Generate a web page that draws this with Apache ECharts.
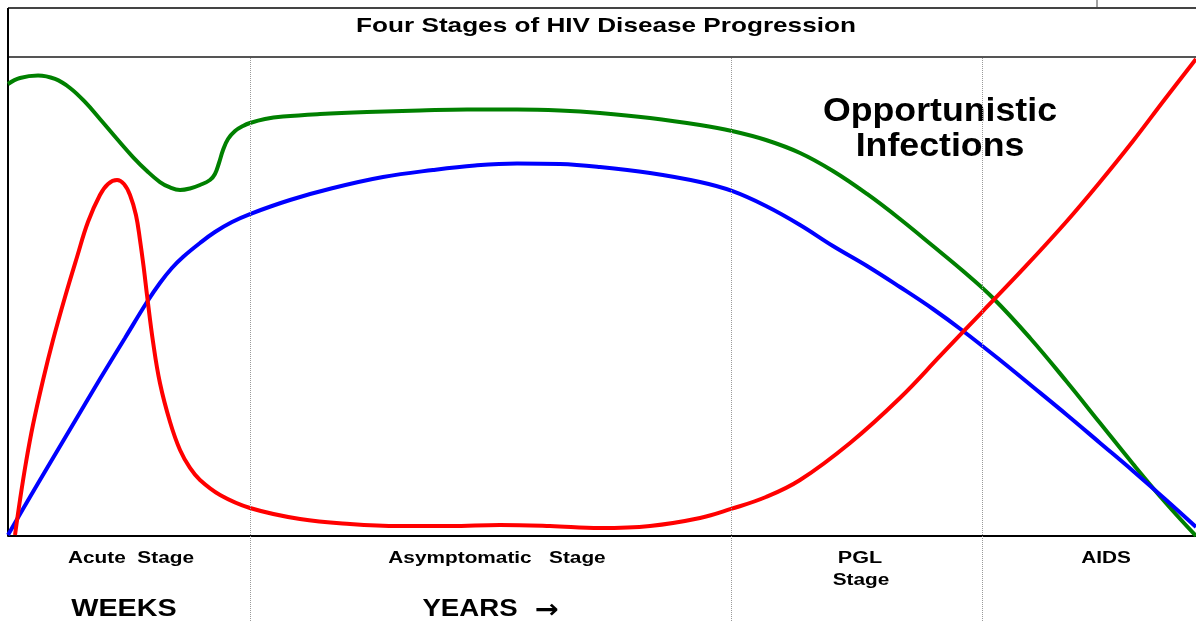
<!DOCTYPE html>
<html>
<head>
<meta charset="utf-8">
<script src="https://cdn.jsdelivr.net/npm/echarts@6/dist/echarts.min.js"></script>
<style>
  html, body, #main { width: 100%; height: 100%; margin: 0; background: #fff; }
</style>
</head>
<body>
<div id="main"></div>
<script>
// time runs 0..100 across the plot, level 0..100 (arbitrary units)
var viralLoad = [
  [0.59, 0.21], [1.01, 7.52], [1.52, 15.45], [2.10, 23.17], [2.95, 32.57], [3.79, 40.92],
  [4.80, 49.90], [5.81, 58.25], [6.73, 65.55], [7.74, 71.19], [8.42, 73.49], [9.18, 74.32],
  [9.76, 73.49], [10.27, 71.19], [10.77, 67.01], [11.11, 61.80], [11.45, 55.53], [11.70, 50.31],
  [12.21, 40.50], [12.79, 31.94], [13.64, 23.80], [14.48, 17.95], [15.32, 14.20], [16.16, 11.69],
  [17.85, 8.56], [20.37, 5.85], [24.58, 3.55], [28.79, 2.51], [33.00, 2.09], [37.21, 2.09],
  [41.41, 2.30], [45.62, 2.09], [49.83, 1.67], [54.04, 2.09], [58.25, 3.76], [60.86, 5.64],
  [63.80, 8.14], [66.67, 11.69], [70.88, 19.42], [75.08, 28.81], [78.54, 37.79], [81.99, 46.76],
  [85.61, 56.16], [89.14, 65.76], [91.92, 73.90], [94.70, 82.46], [97.39, 91.23], [100, 99.58]
];
var antibodies = [
  [0, 0.21], [1.85, 8.14], [3.54, 15.24], [5.64, 24.01], [7.74, 32.78], [9.85, 41.34],
  [11.70, 48.85], [12.79, 52.82], [13.80, 55.95], [14.73, 58.25], [16.16, 61.17], [17.42, 63.47],
  [18.86, 65.55], [20.37, 67.22], [23.74, 70.15], [27.36, 72.65], [31.57, 74.95], [35.77, 76.41],
  [39.31, 77.35], [42.85, 77.77], [46.46, 77.66], [49.83, 77.04], [54.04, 75.78], [58.25, 73.90],
  [60.94, 72.03], [63.80, 68.89], [66.67, 64.93], [69.44, 60.54], [72.31, 56.37], [75.08, 51.98],
  [77.86, 47.39], [80.39, 42.80], [83.50, 36.74], [86.28, 31.11], [89.14, 25.26], [91.92, 19.42],
  [94.70, 13.57], [97.39, 7.72], [100, 1.88]
];
var cd4 = [
  [0, 94.36], [1.01, 95.62], [2.53, 96.14], [3.96, 95.41], [5.22, 93.53], [6.48, 90.61],
  [7.74, 87.06], [9.18, 82.88], [10.52, 79.12], [11.70, 76.20], [12.79, 73.90], [13.64, 72.76],
  [14.48, 72.23], [15.32, 72.55], [16.16, 73.28], [17.00, 74.32], [17.42, 75.57], [17.76, 77.87],
  [18.10, 80.58], [18.52, 82.88], [19.11, 84.55], [19.78, 85.59], [20.37, 86.22], [21.63, 87.06],
  [23.15, 87.58], [26.26, 88.10], [30.22, 88.52], [34.68, 88.83], [38.64, 89.04], [42.85, 89.04],
  [46.46, 88.83], [49.83, 88.31], [54.04, 87.27], [58.25, 85.80], [60.94, 84.55], [63.80, 82.67],
  [66.67, 79.96], [69.44, 76.20], [72.31, 71.40], [75.08, 66.18], [77.86, 60.54], [80.39, 55.32],
  [82.91, 49.69], [86.03, 41.34], [89.14, 32.15], [91.92, 23.59], [94.70, 15.03], [97.39, 7.10],
  [100, 0]
];
var stageBounds = [20.4, 60.9, 82.0];

var chart = echarts.init(document.getElementById('main'));

function txt(x, y, text, size, sx, family) {
  return {
    type: 'text', x: x, y: y, scaleX: sx || 1, silent: true,
    style: {
      text: text,
      font: 'bold ' + size + 'px ' + (family || '"Liberation Sans", Arial, sans-serif'),
      fill: '#000', align: 'center', verticalAlign: 'middle'
    }
  };
}
function line(x1, y1, x2, y2, w, c) {
  return {
    type: 'line', silent: true,
    shape: { x1: x1, y1: y1, x2: x2, y2: y2 },
    style: { stroke: c || '#000', lineWidth: w || 1 }
  };
}

function lineSeries(name, data, color) {
  return {
    name: name, type: 'line', data: data, smooth: 0.4,
    symbol: 'none', clip: true,
    lineStyle: { color: color, width: 4 }
  };
}

var series = [
  lineSeries('CD4', cd4, '#008000'),
  lineSeries('Antibodies', antibodies, '#0000ff'),
  lineSeries('Viral load', viralLoad, '#ff0000')
];
series[0].markLine = {
  silent: true, symbol: 'none', label: { show: false },
  lineStyle: { color: '#9a9a9a', type: 'dotted', width: 1 },
  data: stageBounds.map(function (v) { return { xAxis: v }; })
};

chart.setOption({
  animation: false,
  grid: { left: 8, right: 0, top: 57, bottom: 0 },
  xAxis: {
    type: 'value', min: 0, max: 100,
    axisLine: { onZero: true, lineStyle: { color: '#000', width: 2 } },
    axisTick: { show: false }, axisLabel: { show: false }, splitLine: { show: false }
  },
  yAxis: {
    type: 'value', min: -17.75, max: 100,
    axisLine: { show: false }, axisTick: { show: false },
    axisLabel: { show: false }, splitLine: { show: false }
  },
  series: series,
  graphic: [
    line(8, 8, 1196, 8, 2, '#444'),
    line(1097, 0, 1097, 8, 1, '#444'),
    line(8, 57, 1196, 57, 2, '#555'),
    line(8, 8, 8, 536, 2, '#000'),
    txt(606, 26, 'Four Stages of HIV Disease Progression', 21, 1.245),
    txt(940, 112, 'Opportunistic', 34, 1.05),
    txt(940, 147, 'Infections', 34, 1.05),
    txt(131, 559, 'Acute  Stage', 16, 1.3),
    txt(497, 559, 'Asymptomatic   Stage', 16, 1.3),
    txt(860, 559, 'PGL', 16, 1.35),
    txt(861, 581, 'Stage', 16, 1.3),
    txt(1106, 559, 'AIDS', 16, 1.3),
    txt(124, 610, 'WEEKS', 23, 1.25),
    txt(470, 610, 'YEARS', 23, 1.2),
    txt(547, 611, '\u2192', 26, 1.1, '"DejaVu Sans", sans-serif')
  ]
});
</script>
</body>
</html>
